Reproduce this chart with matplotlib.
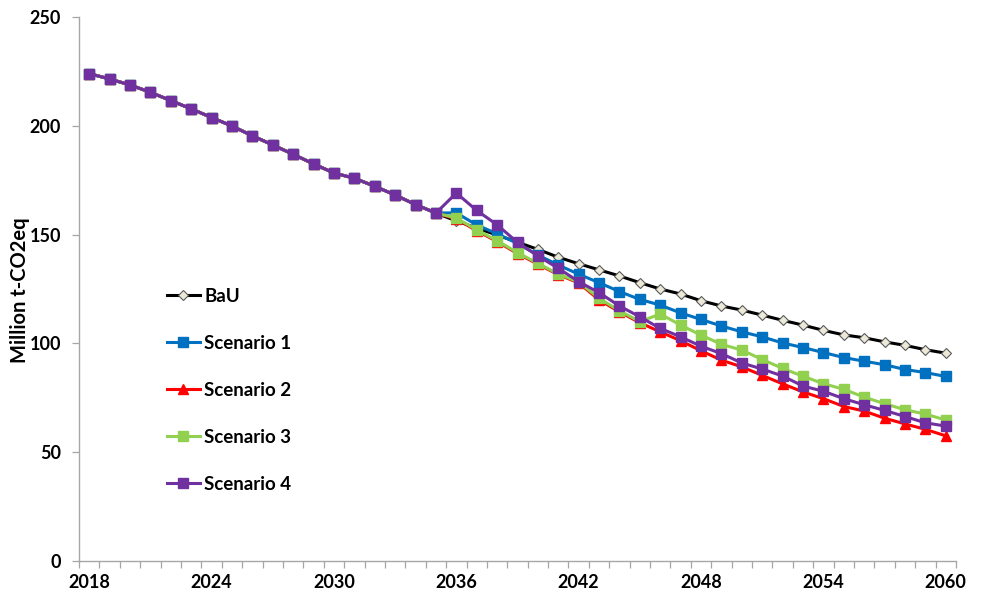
import numpy as np
import matplotlib
matplotlib.use("Agg")
import matplotlib.pyplot as plt

years = list(range(2018, 2061))

# Shared trajectory 2018-2035 (all scenarios identical)
common = [224.0, 221.5, 218.8, 215.4, 211.6, 207.8, 203.8, 199.9, 195.4,
          191.2, 186.9, 182.5, 178.3, 175.9, 172.2, 168.2, 163.8, 159.9]

bau_tail = [156.3, 153.0, 149.8, 146.5, 143.2, 139.6, 136.6, 133.8, 131.0,
            127.9, 125.0, 122.7, 119.6, 117.2, 115.3, 113.0, 110.6, 108.4,
            106.0, 103.9, 102.6, 100.7, 99.1, 97.1, 95.5]
s1_tail = [160.0, 154.4, 150.4, 145.9, 140.6, 136.0, 131.8, 127.9, 123.8,
           120.2, 117.6, 114.0, 111.0, 108.0, 105.3, 103.0, 100.2, 98.1,
           95.8, 93.5, 91.8, 90.2, 88.0, 86.6, 84.8]
s2_tail = [157.2, 151.8, 146.8, 141.3, 136.4, 131.6, 127.8, 120.0, 114.5,
           109.5, 105.3, 101.2, 96.6, 92.3, 89.2, 85.3, 81.4, 77.7,
           74.6, 71.0, 68.9, 65.6, 63.0, 60.5, 57.5]
s3_tail = [157.6, 152.2, 147.2, 141.7, 136.8, 131.9, 128.2, 120.7, 115.0,
           110.0, 113.5, 108.4, 103.8, 99.6, 96.9, 92.6, 88.5, 84.9,
           81.5, 78.9, 75.3, 72.3, 69.5, 67.5, 64.8]
s4_tail = [169.1, 161.1, 154.5, 146.4, 140.2, 134.5, 128.4, 123.3, 117.2,
           112.2, 106.9, 103.0, 98.7, 95.3, 91.0, 88.2, 85.0, 80.4,
           78.0, 74.6, 71.8, 69.2, 66.4, 63.5, 62.0]

series_names = ["BaU", "Scenario 1", "Scenario 2", "Scenario 3", "Scenario 4"]
series_values = [common + t for t in (bau_tail, s1_tail, s2_tail, s3_tail, s4_tail)]

styles = [
    dict(color="black", marker="D", markersize=4.6, markerfacecolor="#ece9d8",
         markeredgecolor="#5a5a5a", markeredgewidth=0.8),
    dict(color="#0070C0", marker="s", markersize=6.6),
    dict(color="#FF0000", marker="^", markersize=7.0),
    dict(color="#92D050", marker="s", markersize=6.6),
    dict(color="#7030A0", marker="s", markersize=6.6),
]

fig = plt.figure(figsize=(9.83, 5.96), dpi=100)
ax = fig.add_axes([79 / 983, 35 / 596, 877 / 983, 544 / 596])

for z, (name, vals, st) in enumerate(zip(series_names, series_values, styles)):
    ax.plot(years, vals, label=name, linewidth=2.2, zorder=3 + z, **st)

ax.set_xlim(years[0] - 0.5, years[-1] + 0.5)
ax.set_ylim(0, 250)

font = "Lato"
ax.set_yticks(np.arange(0, 251, 50))
ax.set_xticks(years[::6])
ax.set_xticks(np.arange(years[0] - 0.5, years[-1] + 1.0, 1.0), minor=True)
ax.tick_params(axis="x", which="major", length=0, pad=9)
ax.tick_params(axis="x", which="minor", length=5, width=0.9, color="#a6a6a6",
               direction="out")
ax.tick_params(axis="y", which="major", length=5, width=0.9, color="#a6a6a6",
               direction="out", pad=8)
for lab in ax.get_xticklabels() + ax.get_yticklabels():
    lab.set_fontfamily(font)
    lab.set_fontweight("bold")
    lab.set_fontsize(13)

for side in ("top", "right"):
    ax.spines[side].set_visible(False)
for side in ("left", "bottom"):
    ax.spines[side].set_color("#a6a6a6")
    ax.spines[side].set_linewidth(1.0)

fig.text(20 / 983, 1 - 290 / 596, "Million t-CO2eq", rotation=90,
         ha="center", va="center", fontsize=14.5, fontweight="bold",
         fontfamily=font)

leg = ax.legend(loc="upper left", bbox_to_anchor=(167 / 983, 1 - 288 / 596),
                bbox_transform=fig.transFigure, frameon=False,
                prop=dict(family=font, weight="bold", size=13.5),
                handlelength=1.75, handletextpad=0.25, labelspacing=1.6,
                borderaxespad=0, borderpad=0)

fig.savefig("out.png", dpi=100)
